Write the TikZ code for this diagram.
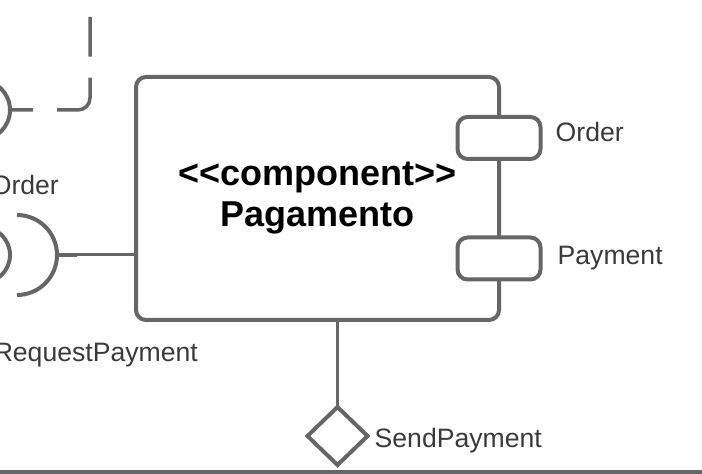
\documentclass[tikz,border=0pt]{standalone}
\usepackage{fontspec}
\setmainfont{Liberation Sans}
\usetikzlibrary{shapes.geometric,positioning}
\definecolor{umlgray}{HTML}{666666}
\definecolor{lblgray}{HTML}{3A3A3A}
\tikzset{%
compbox/.style={rectangle, draw=umlgray, line width=4pt, rounded corners=10pt, outer sep=0pt, minimum width=363pt, minimum height=243pt, align=center, font=\bfseries\fontsize{36}{41}\selectfont},
portbox/.style={rectangle, draw=umlgray, line width=4pt, fill=white, rounded corners=10pt, outer sep=0pt, inner sep=0pt, minimum width=83pt, minimum height=42pt},
ball/.style={circle, draw=umlgray, line width=4pt, inner sep=0pt, outer sep=0pt},
gate/.style={diamond, draw=umlgray, line width=4pt, fill=white, inner sep=0pt, outer sep=0pt, minimum width=60pt, minimum height=58pt},
lbl/.style={text=lblgray, inner sep=0pt, font=\fontsize{26.6}{32}\selectfont},
wire/.style={draw=umlgray, line width=3pt},
sym/.style={draw=umlgray, line width=4pt}
}

\begin{document}
\begin{tikzpicture}[x=1pt, y=1pt]
		\useasboundingbox (0,0) rectangle (702,474);
		
		\node[compbox] (comp) at (317.5,275.5) {<\kern0pt<component>\kern0pt>\\Pagamento};
		
		\node[portbox] (orderport) at ([yshift=60.5pt]comp.east) {};
		\node[portbox] (payport) at ([yshift=-60pt]comp.east) {};
		\node[lbl, right=15pt of orderport, anchor=base west, yshift=-4pt] (orderlbl) {Order};
		\node[lbl, right=17pt of payport, anchor=base west, yshift=-6.5pt] (paylbl) {Payment};
		
		\node[gate, below=87pt of comp, xshift=20pt] (sendport) {};
		\node[lbl, right=7pt of sendport, anchor=base west, yshift=-12pt] (sendlbl) {SendPayment};
		\path[wire] (comp.south -| sendport.north) -- (sendport.north);
		
		% provided interface, top left
		\node[ball, minimum size=60pt] (orderball) at (-20,364) {};
		\coordinate (ordertop) at (90,457);
		\path[draw=umlgray, line width=3.5pt, rounded corners=12pt, dash pattern=on 23pt off 24pt on 60pt off 21pt on 45pt] (orderball.east) -| (ordertop);
		
		% required interface, left
		\node[ball, minimum size=56pt] (payball) at (-18,219) {};
		\coordinate (sockc) at (17,219);
		\coordinate (socktip) at ([xshift=40pt]sockc);
		\draw[sym] ([yshift=40pt]sockc) arc[start angle=90, end angle=-90, radius=40pt];
		\path[sym] (socktip) -- ++(20,0);
		\path[wire] (socktip) -- (socktip -| comp.west);
		\node[lbl, anchor=base east] (leftorderlbl) at (59,279) {Order};
		\node[lbl, anchor=base east] (reqlbl) at (198,112) {RequestPayment};
		
		% edge of the next box
		\coordinate (baseleft) at (-5,2);
		\coordinate (baseright) at (710,2);
		\path[sym] (baseleft) -- (baseright);
	\end{tikzpicture}
\end{document}
